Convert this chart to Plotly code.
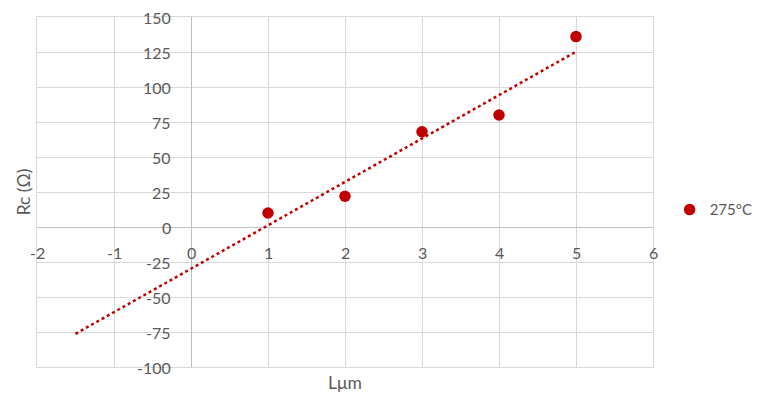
import numpy as np
import plotly.graph_objects as go

# Measured contact resistance vs. length
length_um = [1, 2, 3, 4, 5]
rc_ohm = [10, 22, 68, 80, 136]
series_name = "275°C"

x_ticks = [-2, -1, 0, 1, 2, 3, 4, 5, 6]
y_ticks = [150, 125, 100, 75, 50, 25, 0, -25, -50, -75, -100]

# Linear trendline, extended back to x = -1.5
slope, intercept = np.polyfit(length_um, rc_ohm, 1)
trend_x = np.array([-1.5, max(length_um)])
trend_y = slope * trend_x + intercept

RED = "#C00000"
GRID = "#D9D9D9"
AXIS = "#BFBFBF"
TEXT = "#595959"
FONT = "Lato, Liberation Sans, sans-serif"
FS = 16
TITLE_FS = 17.5

fig = go.Figure()
fig.add_trace(go.Scatter(
    x=trend_x, y=trend_y, mode="lines",
    line=dict(color=RED, width=2.5, dash="dot"),
    showlegend=False, hoverinfo="skip",
))
fig.add_trace(go.Scatter(
    x=length_um, y=rc_ohm, mode="markers", name=series_name,
    marker=dict(color=RED, size=11.5),
))

annotations = []
for v in x_ticks:
    annotations.append(dict(x=v, y=0, xref="x", yref="y", text=str(v),
                            showarrow=False, xanchor="center", yanchor="middle",
                            yshift=-25, font=dict(size=FS, color=TEXT, family=FONT)))
for v in y_ticks:
    annotations.append(dict(x=0, y=v, xref="x", yref="y", text=str(v),
                            showarrow=False, xanchor="right", yanchor="middle",
                            xshift=-18, font=dict(size=FS, color=TEXT, family=FONT)))

fig.update_layout(
    width=757, height=400,
    margin=dict(l=37, r=104, t=17, b=33, autoexpand=False),
    paper_bgcolor="white", plot_bgcolor="white",
    font=dict(family=FONT, size=FS, color=TEXT),
    annotations=annotations,
    legend=dict(x=1.027, y=0.449, xanchor="left", yanchor="middle",
                font=dict(size=15, color=TEXT, family=FONT),
                itemwidth=30, bgcolor="rgba(0,0,0,0)"),
    xaxis=dict(range=[-2, 6], dtick=1, tick0=0, showgrid=True, gridcolor=GRID,
               gridwidth=1, zeroline=True, zerolinecolor=AXIS, zerolinewidth=1,
               showticklabels=False, ticks="", showline=True, linecolor=GRID,
               mirror=True, title=dict(text="Lμm", standoff=9,
                                       font=dict(size=TITLE_FS, color=TEXT, family=FONT))),
    yaxis=dict(range=[-100, 150], dtick=25, tick0=0, showgrid=True, gridcolor=GRID,
               gridwidth=1, zeroline=True, zerolinecolor=AXIS, zerolinewidth=1,
               showticklabels=False, ticks="", showline=True, linecolor=GRID,
               mirror=True, title=dict(text="Rc (Ω)", standoff=0,
                                       font=dict(size=TITLE_FS, color=TEXT, family=FONT))),
)

fig.write_html("out.html")
